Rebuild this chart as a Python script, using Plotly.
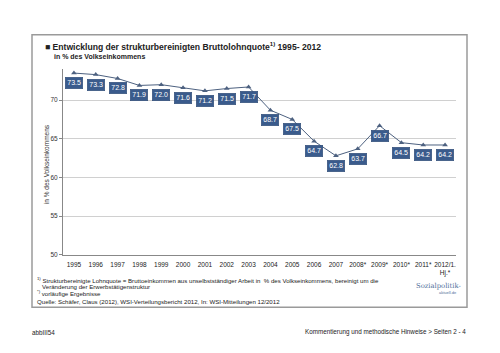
import plotly.graph_objects as go

years = ["1995", "1996", "1997", "1998", "1999", "2000", "2001", "2002", "2003", "2004",
         "2005", "2006", "2007", "2008*", "2009*", "2010*", "2011*", "2012/1.<br>Hj.*"]
values = [73.5, 73.3, 72.8, 71.9, 72.0, 71.6, 71.2, 71.5, 71.7, 68.7,
          67.5, 64.7, 62.8, 63.7, 66.7, 64.5, 64.2, 64.2]
y_ticks = [50, 55, 60, 65, 70]

xpos = list(range(len(years)))

W, H = 500, 353
def px(x): return x / W
def py(y): return 1 - y / H

FONT = "Liberation Sans, Arial, sans-serif"
LINE = "#4d6180"
BOX = "#3a5b8c"

fig = go.Figure()
fig.add_trace(go.Scatter(
    x=xpos, y=values, mode="lines+markers",
    line=dict(color=LINE, width=1),
    marker=dict(symbol="triangle-up", size=5, color=LINE),
    hoverinfo="skip", showlegend=False,
))

annotations = []
for xv, yv in zip(xpos, values):
    annotations.append(dict(
        x=xv, y=yv, xref="x", yref="y", text=f"{yv:.1f}",
        showarrow=False, yanchor="top", yshift=-4,
        font=dict(family=FONT, size=7, color="white"),
        bgcolor=BOX, bordercolor="#2a4670", borderwidth=0.5, borderpad=1.8,
    ))

def txt(x, y, s, size, bold=False, color="#222", xanchor="left", family=FONT):
    if bold:
        s = f"<b>{s}</b>"
    annotations.append(dict(x=px(x), y=py(y), xref="paper", yref="paper", text=s,
                            showarrow=False, xanchor=xanchor, yanchor="middle",
                            font=dict(family=family, size=size, color=color)))

txt(43, 47, "■ Entwicklung der strukturbereinigten Bruttolohnquote<sup>1)</sup> 1995- 2012", 8.6, bold=True)
txt(52, 57, "in % des Volkseinkommens", 7, bold=True)
annotations.append(dict(x=px(41), y=py(166), xref="paper", yref="paper",
                        text="in % des Volkseinkommens", textangle=-90, showarrow=False,
                        font=dict(family=FONT, size=6.5, color="#333")))
txt(35, 282, "<sup>1)</sup> Strukturbereinigte Lohnquote = Bruttoeinkommen aus unselbstständiger Arbeit in  % des Volkseinkommens, bereinigt um die", 6.1)
txt(35, 289, "   Veränderung der Erwerbstätigenstruktur", 6.1)
txt(35, 296, "<sup>*)</sup> vorläufige Ergebnisse", 6.1)
txt(35, 304, "Quelle: Schäfer, Claus (2012), WSI-Verteilungsbericht 2012, In: WSI-Mitteilungen 12/2012", 6.1)
txt(30, 335, "abbIII54", 6.3)
txt(468, 335, "Kommentierung und methodische Hinweise > Seiten 2 - 4", 6.3, xanchor="right")
txt(414, 288, "Sozialpolitik-", 6.8, color="#4f6f9a", family="DejaVu Serif, serif")
txt(459, 295, "aktuell.de", 4, color="#4f6f9a", xanchor="right")

fig.update_layout(
    width=W, height=H, margin=dict(l=0, r=0, t=0, b=0),
    paper_bgcolor="white", plot_bgcolor="white",
    annotations=annotations,
    shapes=[dict(type="rect", xref="paper", yref="paper",
                 x0=px(32), x1=px(467), y0=py(310), y1=py(35),
                 line=dict(color="#9a9a9a", width=1.5))],
    xaxis=dict(domain=[px(63), px(456)], range=[-0.5, len(years) - 0.5],
               tickvals=xpos, ticktext=years,
               tickfont=dict(family=FONT, size=6.5, color="#222"),
               showline=True, linecolor="#888", linewidth=1,
               ticks="outside", ticklen=3, tickcolor="#fff",
               showgrid=False, tickangle=0, zeroline=False),
    yaxis=dict(domain=[py(257), py(69.8)], range=[50, 74],
               tickvals=y_ticks, ticktext=[str(v) for v in y_ticks],
               tickfont=dict(family=FONT, size=6.5, color="#333"),
               showline=True, linecolor="#888", linewidth=1,
               ticks="outside", ticklen=3, tickcolor="#888",
               showgrid=True, gridcolor="#d0d0d0", gridwidth=1,
               zeroline=False),
)
fig.write_html("out.html")
